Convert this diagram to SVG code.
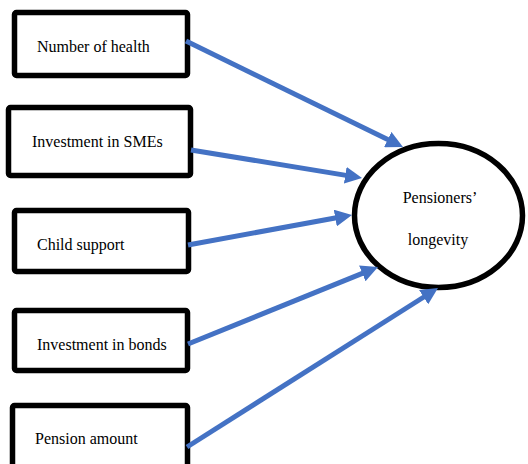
<svg xmlns="http://www.w3.org/2000/svg" width="528" height="464" viewBox="0 0 528 464">
<style>
.box{fill:#fff;stroke:#000;stroke-width:5.5;}
.lbl{font-family:'Liberation Serif','DejaVu Serif',serif;font-size:16px;fill:#000;}
.conn{stroke:#4472C4;stroke-width:5;fill:none;marker-end:url(#ah);}
</style>
<defs>
<marker id="ah" markerUnits="userSpaceOnUse" markerWidth="17" markerHeight="17" viewBox="0 0 17 17" refX="4" refY="8.5" orient="auto">
<path d="M0,0 L17,8.5 L0,17 z" fill="#4472C4"/>
</marker>
</defs>
<rect width="528" height="464" fill="#fff"/>
<g id="n1"><rect class="box" x="14.5" y="12.5" width="173" height="63" rx="2"/><text class="lbl" x="37" y="52">Number of health</text></g>
<g id="n2"><rect class="box" x="8.5" y="107.5" width="182" height="68" rx="2"/><text class="lbl" x="32" y="147">Investment in SMEs</text></g>
<g id="n3"><rect class="box" x="14.5" y="210.5" width="174" height="61" rx="2"/><text class="lbl" x="37" y="250">Child support</text></g>
<g id="n4"><rect class="box" x="14.5" y="310.5" width="173" height="60" rx="2"/><text class="lbl" x="37" y="350">Investment in bonds</text></g>
<g id="n5"><rect class="box" x="12.5" y="405.5" width="175" height="70" rx="2"/><text class="lbl" x="35" y="444">Pension amount</text></g>
<g id="target"><ellipse class="box" cx="438.5" cy="215.5" rx="84" ry="72"/><text class="lbl" x="440" y="203" text-anchor="middle">Pensioners’</text><text class="lbl" x="438" y="245" text-anchor="middle">longevity</text></g>
<g id="connectors">
<line class="conn" x1="186" y1="41" x2="391.3" y2="141.3"/>
<line class="conn" x1="191" y1="150" x2="349.2" y2="175.9"/>
<line class="conn" x1="188" y1="245" x2="339.2" y2="217.3"/>
<line class="conn" x1="188" y1="344" x2="366" y2="271.9"/>
<line class="conn" x1="187" y1="447" x2="427" y2="295"/>
</g>
</svg>
